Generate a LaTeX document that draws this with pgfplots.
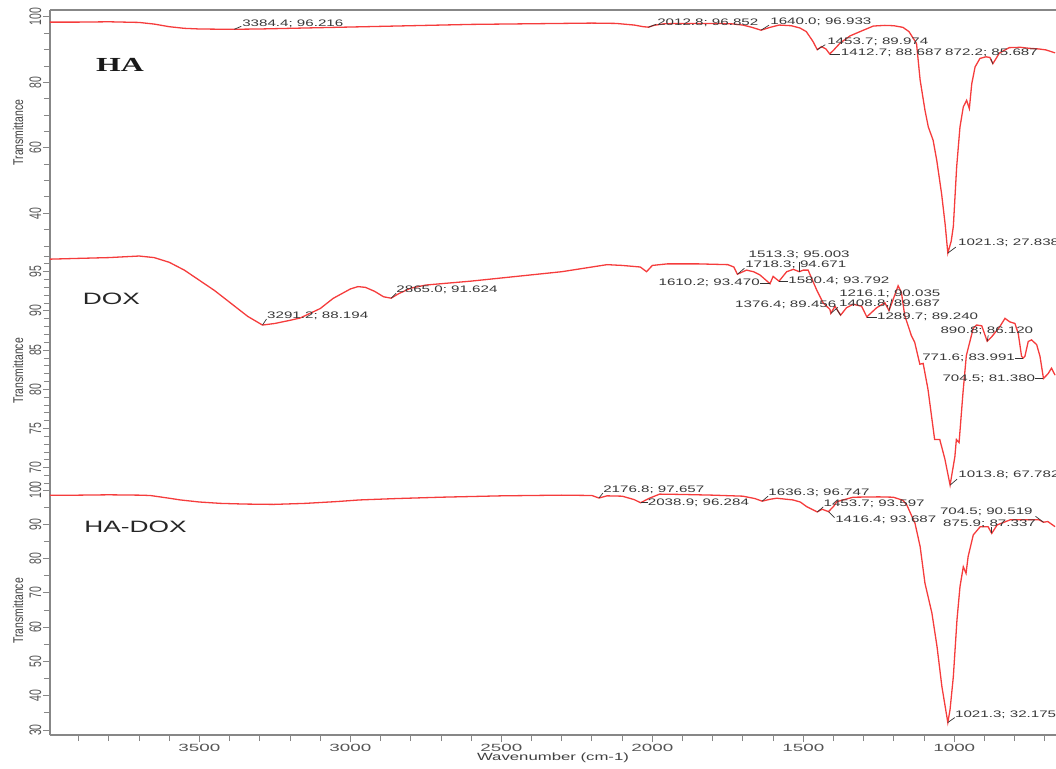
\documentclass[border=0pt]{standalone}
\usepackage{pgfplots}
\pgfplotsset{compat=1.18}
\usepackage{fontspec}
\setmainfont{Liberation Sans}
\newfontfamily\serifb{Liberation Serif}
\definecolor{curve}{RGB}{245,60,60}
\definecolor{axgray}{RGB}{135,135,135}
\definecolor{tickgray}{RGB}{85,85,85}

\pgfplotstableread{
wn T
3995 98.4
3900 98.4
3800 98.5
3700 98.3
3650 97.8
3600 97.0
3550 96.5
3500 96.3
3450 96.25
3384.4 96.216
3300 96.3
3200 96.5
3100 96.7
3000 96.9
2900 97.1
2800 97.3
2700 97.5
2600 97.7
2500 97.8
2400 97.9
2300 98.0
2200 98.1
2120 98.0
2060 97.5
2030 97.0
2012.8 96.852
1995 97.4
1960 97.9
1900 98.0
1800 98.0
1740 97.9
1700 97.5
1670 96.8
1640.0 95.933
1610 96.8
1580 97.5
1540 97.3
1511 96.6
1490 95.5
1468 92.5
1453.7 89.974
1440 90.9
1425 90.2
1412.7 88.687
1400 89.8
1378 92.0
1345 94.2
1312 95.5
1268 97.2
1230 97.4
1200 97.3
1170 96.8
1150 95.5
1125 91.9
1113 80.7
1097 71.5
1086 66.4
1070 62.3
1058 56.2
1042 46.0
1030 36.5
1021.3 27.838
1010 31.5
1003 36.0
992 54.2
981 66.4
970 72.5
959 74.5
950 72.0
942 79.6
931 84.7
915 87.3
895 87.8
882 87.6
872.2 85.687
860 87.5
851 88.9
818 90.6
780 90.7
752 90.4
720 90.2
696 89.9
666 89.0
}\haData

\pgfplotstableread{
wn T
3995 96.6
3900 96.7
3800 96.8
3700 97.0
3650 96.8
3600 96.2
3550 95.2
3500 93.9
3450 92.6
3410 91.4
3370 90.2
3340 89.3
3291.2 88.194
3250 88.4
3200 88.8
3166 89.1
3100 90.3
3057 91.6
3000 92.8
2975 93.1
2950 93.0
2920 92.5
2890 91.8
2865.0 91.624
2840 92.2
2800 92.9
2750 93.3
2600 93.8
2400 94.6
2300 95.0
2200 95.6
2150 95.9
2100 95.8
2040 95.6
2019 95.0
2000 95.8
1950 96.0
1850 96.0
1750 95.9
1730 95.6
1718.3 94.671
1700 95.0
1688 95.2
1665 95.0
1644 94.6
1610.2 93.470
1600 94.4
1580.4 93.792
1555 95.0
1533 95.3
1513.3 95.003
1500 95.2
1484 95.2
1456 92.7
1434 91.0
1412 90.2
1408.8 89.687
1395 90.6
1376.4 89.456
1357 90.4
1335 90.85
1307 90.6
1289.7 89.240
1257 90.4
1230 91.05
1216.1 90.035
1202 91.5
1186 93.2
1175 92.35
1164 89.4
1142 86.85
1131 86.0
1114 83.2
1103 83.3
1087 80.0
1065 73.6
1048 73.6
1031 71.1
1013.8 67.782
998 71.4
993 73.6
984 73.2
971 79.6
960 84.3
937 87.8
926 88.2
909 88.1
890.8 86.120
876 86.7
849 88.0
832 89.05
816 88.6
799 88.4
788 87.1
777 84.2
771.6 83.991
766 84.2
755 86.1
744 86.3
727 85.7
716 84.2
704.5 81.380
689 82.0
678 82.7
666 81.8
}\doxData

\pgfplotstableread{
wn T
3995 98.5
3900 98.5
3800 98.6
3700 98.5
3663 98.4
3600 97.6
3563 97.1
3500 96.5
3430 96.1
3350 95.9
3255 95.8
3150 96.1
3050 96.6
2970 97.1
2850 97.5
2700 97.9
2500 98.3
2300 98.5
2200 98.4
2176.8 97.657
2150 98.3
2100 98.2
2060 97.2
2038.9 96.284
2010 97.6
1976 98.8
1900 98.7
1800 98.5
1700 98.2
1660 97.5
1636.3 96.747
1610 97.3
1588 97.6
1534 97.1
1510 96.5
1488 95.1
1453.7 93.597
1438 94.4
1416.4 93.687
1400 95.2
1389 96.6
1335 97.9
1250 98.0
1202 97.9
1170 97.0
1157 95.6
1130 90.3
1113 83.5
1097 72.8
1074 64.1
1057 54.3
1041 42.7
1021.3 32.175
1014 35.9
1003 45.6
991 62.1
981 71.8
970 77.6
961 75.7
954 80.6
937 86.9
914 89.3
888 89.3
875.9 87.337
858 89.8
815 91.3
739 91.3
719 91.3
704.5 90.6
690 90.8
666 89.3
}\hadoxData

\tikzset{
 ann/.style={font=\fontsize{9.5}{10}\selectfont, text=black!78, inner sep=0pt, xscale=1.6},
 lead/.style={black!80, line width=0.7bp},
 spec/.style={curve, line width=1.3bp, no marks},
}
\newcommand{\ann}[8]{%
 \draw[lead] (axis cs:#1,#2) -- ++(#3bp,#4bp);
 \node[ann,anchor=#7] at ([shift={(#5bp,#6bp)}]axis cs:#1,#2) {#8};
}

\pgfplotsset{
 panel/.style={
  scale only axis, width=1006bp, xmin=663, xmax=3995, x dir=reverse,
  clip=false,
  axis y line*=left,
  tick align=outside,
  major tick length=7bp, minor tick length=6bp,
  tick style={axgray, line width=0.9bp},
  axis line style={axgray, line width=1.7bp},
  /pgf/number format/assume math mode=true,
  /pgf/number format/set thousands separator={},
  yticklabel style={font=\fontsize{10.5}{11}\selectfont, text=tickgray, rotate=90, anchor=south, inner sep=1.5pt},
  yticklabel={\scalebox{1}[1.6]{\pgfmathprintnumber{\tick}}},
  xticklabel style={font=\fontsize{10.5}{11}\selectfont, text=tickgray, inner sep=2pt},
  xticklabel={\scalebox{1.8}[1]{\pgfmathprintnumber{\tick}}},
 },
}

\begin{document}
\begin{tikzpicture}
% ---------- HA ----------
\begin{axis}[panel, at={(50bp,-10bp)}, anchor=north west, height=245bp,
  axis x line*=top, xtick=\empty,
  ymin=27.25, ymax=102.1, ytick={40,60,80,100}, minor ytick={30,35,...,100}]
\addplot[spec] table[x=wn,y=T] {\haData};
\node[font=\serifb\bfseries\fontsize{20}{22}\selectfont, xscale=1.6, text=black!90] at (axis description cs:0.0696,0.7755) {HA};
\node[rotate=90, yscale=1.35, font=\fontsize{10.5}{11}\selectfont, text=black!75] at ([xshift=-32bp]axis description cs:0,0.5) {Transmittance};
\ann{3384.4}{96.216}{7}{3}{7.6}{5.1}{west}{3384.4; 96.216}
\ann{2012.8}{96.852}{8}{3}{8.5}{4.5}{west}{2012.8; 96.852}
\ann{1640.0}{95.933}{8}{5}{9}{8}{west}{1640.0; 96.933}
\ann{1453.7}{89.974}{8}{5}{9.7}{7.8}{west}{1453.7; 89.974}
\ann{1412.7}{88.687}{10}{0}{11}{0.7}{west}{1412.7; 88.687}
\ann{872.2}{85.687}{-2}{5}{-48}{10.5}{west}{872.2; 85.687}
\ann{1021.3}{27.838}{8}{6}{10}{9.8}{west}{1021.3; 27.838}
\end{axis}
% ---------- DOX ----------
\begin{axis}[panel, at={(50bp,-255bp)}, anchor=north west, height=232bp,
  axis x line=none,
  ymin=67.54, ymax=97.13, ytick={70,75,...,95}, minor ytick={68,69,...,97}]
\addplot[spec] table[x=wn,y=T] {\doxData};
\node[font=\fontsize{16.5}{18}\selectfont, xscale=1.6, text=black!85] at (axis description cs:0.0611,0.8103) {DOX};
\node[rotate=90, yscale=1.35, font=\fontsize{10.5}{11}\selectfont, text=black!75] at ([xshift=-32bp]axis description cs:0,0.5) {Transmittance};
\ann{3291.2}{88.194}{4}{6}{4.4}{9.1}{west}{3291.2; 88.194}
\ann{2865.0}{91.624}{5}{5}{5}{8.5}{west}{2865.0; 91.624}
\ann{1513.3}{95.003}{0}{10}{-51}{17}{west}{1513.3; 95.003}
\ann{1718.3}{94.671}{7}{6}{7.6}{9.3}{west}{1718.3; 94.671}
\ann{1610.2}{93.470}{-10}{0}{-10}{1}{east}{1610.2; 93.470}
\ann{1580.4}{93.792}{9}{0}{9}{0}{west}{1580.4; 93.792}
\ann{1216.1}{90.035}{3}{12}{-50}{17.3}{west}{1216.1; 90.035}
\ann{1408.8}{89.687}{7}{6}{8}{10}{west}{1408.8; 89.687}
\ann{1376.4}{89.456}{-4}{6}{-4}{10.2}{east}{1376.4; 89.456}
\ann{1289.7}{89.240}{10}{0}{10}{0}{west}{1289.7; 89.240}
\ann{890.8}{86.120}{1}{6}{-47}{10.6}{west}{890.8; 86.120}
\ann{771.6}{83.991}{-8}{0}{-8}{0}{east}{771.6; 83.991}
\ann{704.5}{81.380}{-8}{0}{-8}{0}{east}{704.5; 81.380}
\ann{1013.8}{67.782}{7}{6}{8}{10}{west}{1013.8; 67.782}
\end{axis}
% ---------- HA-DOX ----------
\begin{axis}[panel, at={(50bp,-487bp)}, anchor=north west, height=248bp,
  axis x line*=bottom,
  xtick={1000,1500,...,3500}, minor xtick={700,800,...,3900},
  ymin=28.54, ymax=100.875, ytick={30,40,...,100}, minor ytick={30,35,...,100}]
\addplot[spec] table[x=wn,y=T] {\hadoxData};
\node[font=\fontsize{16.5}{18}\selectfont, xscale=1.6, text=black!85] at (axis description cs:0.085,0.84) {HA-DOX};
\node[rotate=90, yscale=1.35, font=\fontsize{10.5}{11}\selectfont, text=black!75] at ([xshift=-32bp]axis description cs:0,0.5) {Transmittance};
\node[font=\fontsize{10.5}{11}\selectfont, xscale=1.6, text=black!75] at ([yshift=-23bp]axis description cs:0.5,0) {Wavenumber (cm-1)};
\ann{2176.8}{97.657}{4}{5}{4}{8.7}{west}{2176.8; 97.657}
\ann{2038.9}{96.284}{7}{0}{7}{0}{west}{2038.9; 96.284}
\ann{1636.3}{96.747}{6}{5}{6}{8.5}{west}{1636.3; 96.747}
\ann{1453.7}{93.597}{6}{5}{6}{8}{west}{1453.7; 93.597}
\ann{1416.4}{93.687}{6}{-6}{6.4}{-8.4}{west}{1416.4; 93.687}
\ann{704.5}{90.6}{-8}{6}{-10.5}{10.2}{east}{704.5; 90.519}
\ann{875.9}{87.337}{0}{6}{-48.8}{10.1}{west}{875.9; 87.337}
\ann{1021.3}{32.175}{7}{5}{7}{7.5}{west}{1021.3; 32.175}
\end{axis}
\pgfresetboundingbox
\path[use as bounding box] (0,0) rectangle (1056bp,-769bp);
\end{tikzpicture}
\end{document}
